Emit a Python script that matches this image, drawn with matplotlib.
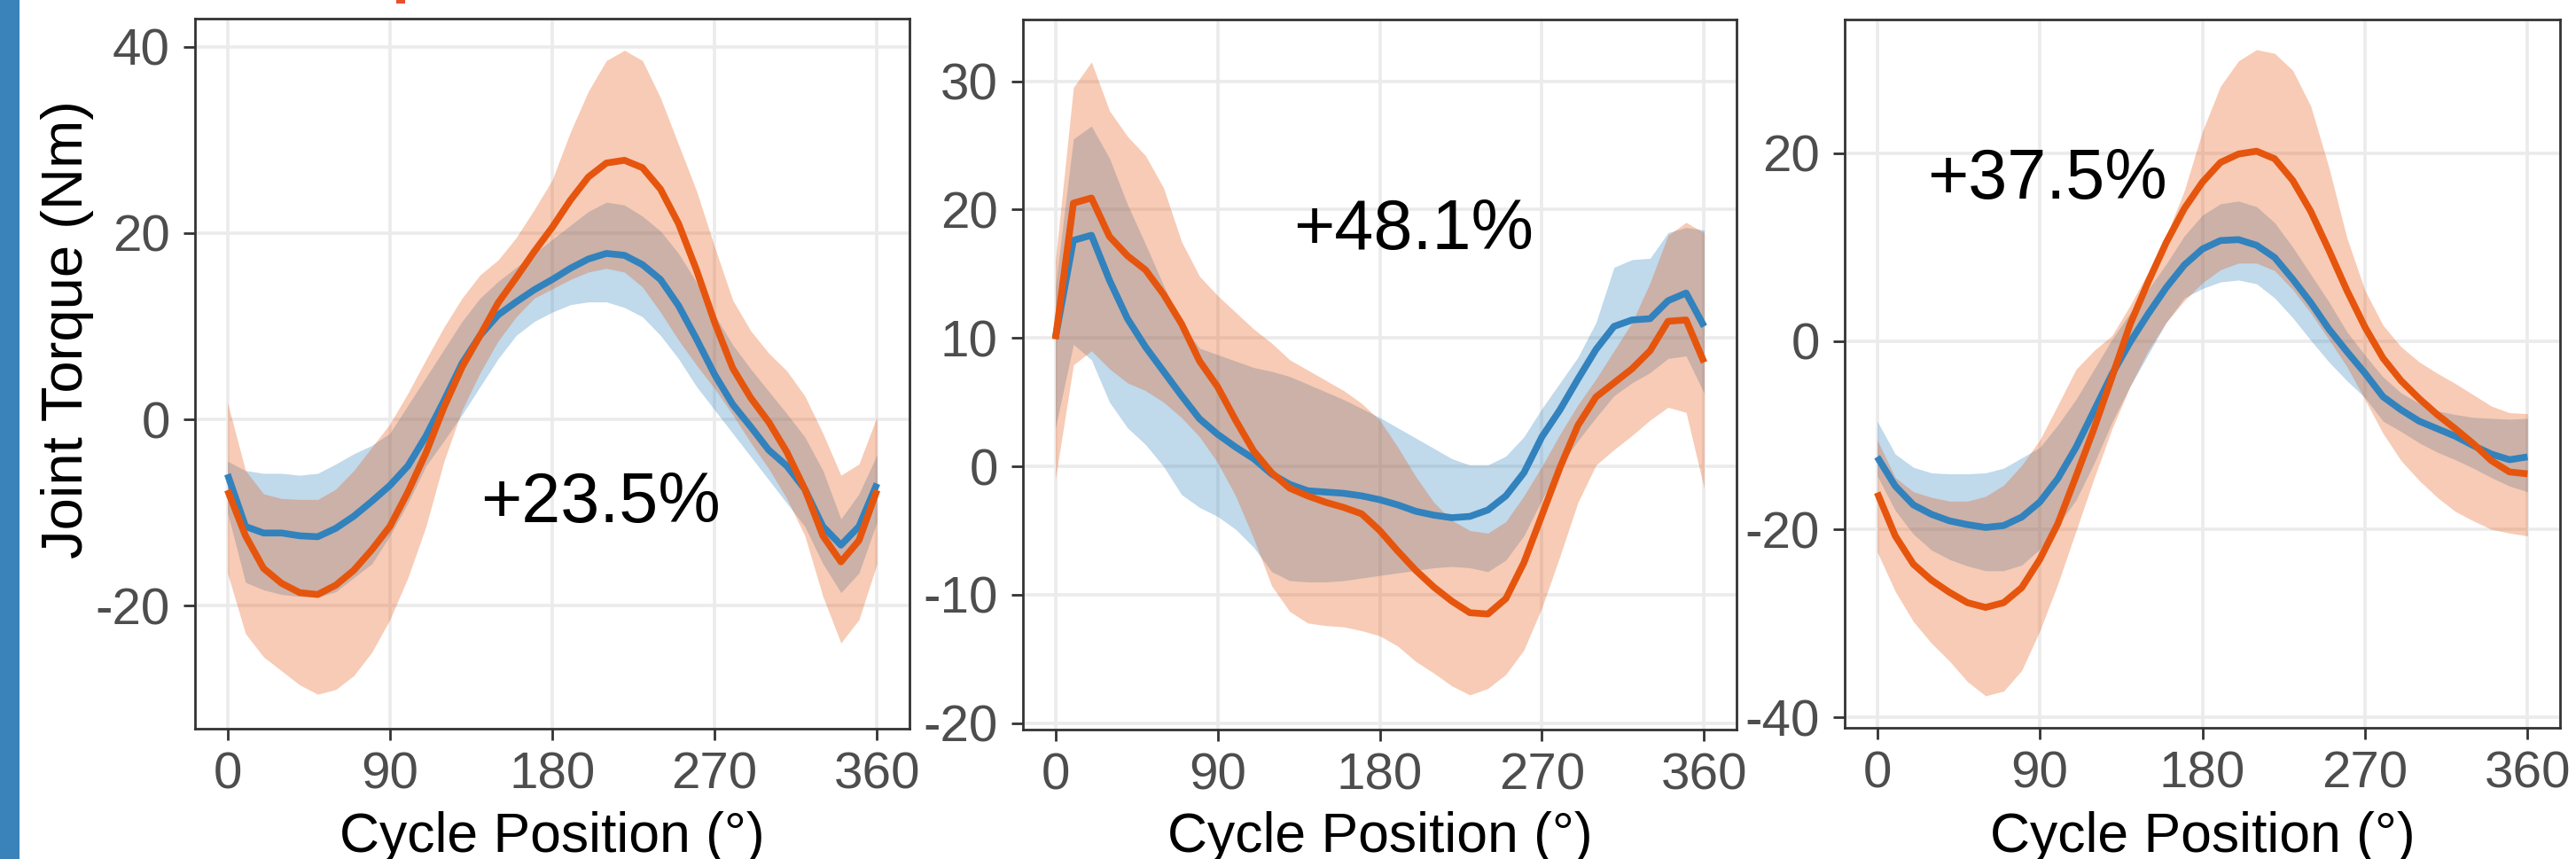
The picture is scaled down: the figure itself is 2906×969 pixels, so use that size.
import numpy as np
import matplotlib
matplotlib.use("Agg")
import matplotlib.pyplot as plt
from matplotlib.patches import Rectangle

plt.rcParams['font.family'] = ['Liberation Sans', 'DejaVu Sans']
plt.rcParams['axes.unicode_minus'] = False

cycle_deg = [0, 10, 20, 30, 40, 50, 60, 70, 80, 90, 100, 110, 120, 130, 140, 150, 160, 170, 180,
             190, 200, 210, 220, 230, 240, 250, 260, 270, 280, 290, 300, 310, 320, 330, 340, 350, 360]

# panel 1
p1_orange_mean = [-7.6, -12.5, -16.0, -17.6, -18.6, -18.8, -17.8, -16.2, -14.0, -11.5, -7.8, -3.6, 1.3,
                  5.6, 9.0, 12.5, 15.2, 18.0, 20.6, 23.5, 26.0, 27.5, 27.8, 27.0, 24.7, 21.0, 16.0, 10.4,
                  5.5, 2.3, -0.3, -3.5, -7.5, -12.5, -15.3, -13.0, -7.6]
p1_orange_hi = [1.8, -5.5, -8.0, -8.5, -8.6, -8.6, -7.5, -5.5, -3.0, -0.5, 2.8, 6.4, 9.9, 13.0, 15.5,
                17.1, 19.5, 22.5, 25.7, 30.8, 35.2, 38.5, 39.6, 38.5, 34.5, 29.5, 24.5, 18.5, 12.8, 9.5,
                7.1, 5.2, 2.5, -1.5, -6.0, -4.8, 0.3]
p1_orange_lo = [-16.5, -23.0, -25.5, -27.0, -28.5, -29.5, -29.0, -27.5, -25.0, -21.5, -17.0, -11.5, -4.5,
                1.0, 5.0, 8.4, 11.0, 13.0, 14.0, 15.0, 15.8, 16.2, 15.8, 14.2, 11.5, 8.5, 5.8, 3.3, 0.5,
                -2.5, -5.3, -8.5, -12.5, -19.0, -24.0, -21.5, -15.5]
p1_blue_mean = [-5.9, -11.5, -12.2, -12.2, -12.5, -12.6, -11.7, -10.4, -8.8, -7.1, -5.0, -1.8, 2.0, 6.0,
                9.0, 11.2, 12.6, 13.9, 15.0, 16.2, 17.2, 17.8, 17.6, 16.6, 15.0, 12.2, 8.6, 4.8, 1.6, -0.8,
                -3.3, -5.0, -7.5, -11.5, -13.5, -11.5, -6.9]
p1_blue_hi = [-4.5, -5.5, -5.8, -5.8, -6.0, -5.8, -4.8, -3.7, -2.8, -1.5, 1.5, 4.5, 7.5, 10.5, 13.0,
              14.8, 16.3, 17.8, 19.3, 20.8, 22.3, 23.3, 23.0, 21.8, 20.2, 17.8, 14.7, 11.2, 8.0, 5.4,
              3.0, 0.6, -1.9, -5.5, -10.7, -8.0, -3.8]
p1_blue_lo = [-10.0, -17.5, -18.3, -18.8, -19.0, -19.1, -18.5, -17.0, -15.5, -12.5, -9.0, -5.0, -2.3,
              0.5, 3.5, 6.5, 9.0, 10.5, 11.5, 12.3, 12.6, 12.6, 12.0, 11.0, 9.0, 6.5, 3.5, 1.0, -1.5,
              -4.0, -6.5, -9.0, -11.5, -15.5, -18.6, -16.5, -11.0]

# panel 2
p2_orange_mean = [9.9, 20.5, 20.9, 17.9, 16.4, 15.3, 13.4, 11.1, 8.2, 6.2, 3.6, 1.2, -0.5, -1.7, -2.3,
                  -2.8, -3.2, -3.7, -5.0, -6.6, -8.1, -9.4, -10.5, -11.4, -11.5, -10.3, -7.5, -3.8,
                  -0.1, 3.2, 5.4, 6.5, 7.6, 9.0, 11.3, 11.4, 8.1]
p2_orange_hi = [16.0, 29.5, 31.5, 27.7, 25.7, 24.2, 21.7, 17.5, 14.8, 13.3, 12.0, 10.7, 9.6, 8.3, 7.5,
                6.7, 5.9, 4.9, 3.6, 1.5, -0.8, -2.8, -4.2, -5.0, -5.2, -4.3, -2.3, 0.0, 2.5, 4.8, 6.8,
                9.0, 11.2, 14.3, 18.0, 19.0, 18.2]
p2_orange_lo = [-1.0, 7.9, 9.0, 7.6, 6.5, 5.9, 5.0, 3.8, 2.3, 0.3, -2.3, -5.6, -9.3, -11.3, -12.2,
                -12.4, -12.5, -12.8, -13.2, -14.0, -15.2, -16.1, -17.1, -17.8, -17.3, -16.2, -14.3,
                -11.0, -7.0, -2.8, 0.1, 1.3, 2.4, 3.6, 4.6, 4.2, -1.7]
p2_blue_mean = [10.0, 17.6, 18.0, 14.5, 11.5, 9.3, 7.4, 5.5, 3.7, 2.5, 1.5, 0.6, -0.6, -1.4, -1.9, -2.0,
                -2.1, -2.3, -2.6, -3.0, -3.5, -3.8, -4.0, -3.9, -3.4, -2.3, -0.5, 2.3, 4.4, 6.8, 9.1,
                10.9, 11.4, 11.5, 12.9, 13.5, 10.9]
p2_blue_hi = [14.0, 25.5, 26.5, 24.0, 20.4, 17.3, 14.1, 11.1, 9.2, 8.7, 8.2, 7.7, 7.4, 7.0, 6.4, 5.8,
              5.2, 4.5, 3.8, 3.0, 2.2, 1.4, 0.6, 0.1, 0.1, 0.8, 2.3, 4.5, 6.5, 8.5, 11.2, 15.5, 16.1,
              16.2, 18.2, 18.6, 18.4]
p2_blue_lo = [3.0, 9.5, 8.3, 5.0, 3.0, 1.7, 0.0, -2.2, -3.2, -3.9, -4.9, -6.3, -8.2, -8.9, -9.0, -9.0,
              -8.9, -8.7, -8.5, -8.3, -8.1, -7.9, -7.8, -7.9, -8.2, -7.3, -5.4, -2.6, 0.0, 2.0, 3.8,
              5.5, 6.5, 7.3, 8.4, 8.6, 5.7]

# panel 3
p3_orange_mean = [-16.1, -20.7, -23.7, -25.4, -26.7, -27.8, -28.3, -27.8, -26.2, -23.2, -19.4, -14.4,
                  -9.3, -3.8, 1.8, 6.3, 10.5, 14.1, 16.9, 19.0, 19.9, 20.2, 19.4, 17.1, 13.8, 9.7, 5.4,
                  1.5, -1.8, -4.2, -6.1, -7.8, -9.3, -10.9, -12.7, -13.9, -14.1]
p3_orange_hi = [-10.5, -14.5, -16.0, -16.6, -17.0, -17.0, -16.5, -15.3, -13.2, -10.5, -6.8, -3.0, -1.0,
                0.6, 3.8, 7.3, 11.2, 16.0, 22.3, 27.1, 29.8, 31.0, 30.6, 28.8, 25.0, 18.5, 11.0, 5.4,
                1.7, -0.6, -2.2, -3.4, -4.5, -5.7, -6.9, -7.6, -7.7]
p3_orange_lo = [-22.4, -26.6, -29.8, -32.1, -34.0, -36.2, -37.7, -37.2, -35.0, -30.8, -25.8, -20.2,
                -14.6, -9.3, -4.8, -1.0, 2.0, 4.3, 6.2, 7.6, 8.3, 8.3, 7.5, 5.5, 3.0, 0.2, -2.7, -6.2,
                -9.8, -12.7, -14.8, -16.6, -18.1, -19.1, -20.0, -20.4, -20.7]
p3_blue_mean = [-12.3, -15.4, -17.4, -18.4, -19.1, -19.5, -19.8, -19.6, -18.7, -17.1, -14.6, -11.3, -7.4,
                -3.5, -0.1, 2.9, 5.7, 8.1, 9.8, 10.7, 10.8, 10.2, 8.9, 6.6, 4.1, 1.3, -1.1, -3.4, -5.9,
                -7.3, -8.5, -9.3, -10.1, -11.1, -12.0, -12.6, -12.3]
p3_blue_hi = [-8.5, -12.0, -13.4, -14.0, -14.1, -14.1, -14.0, -13.5, -12.4, -11.3, -8.9, -6.2, -3.0,
              0.2, 3.0, 5.5, 8.2, 11.2, 13.4, 14.6, 14.9, 14.3, 12.6, 10.0, 7.1, 4.2, 1.0, -1.5, -3.8,
              -5.5, -6.6, -7.4, -7.8, -8.1, -8.2, -8.3, -8.2]
p3_blue_lo = [-14.3, -18.0, -20.5, -22.2, -23.2, -23.9, -24.4, -24.4, -23.8, -22.1, -19.6, -16.9, -13.0,
              -8.6, -4.8, -1.4, 2.0, 4.6, 5.6, 6.3, 6.5, 6.1, 4.6, 2.5, 0.1, -2.2, -4.2, -6.0, -8.5,
              -9.6, -10.8, -11.8, -12.6, -13.5, -14.5, -15.4, -16.0]

x_ticks = [0, 90, 180, 270, 360]
y_ticks = [[-20, 0, 20, 40], [-20, -10, 0, 10, 20, 30], [-40, -20, 0, 20]]
y_limits = [(-33.2, 43.0), (-20.5, 34.8), (-41.1, 34.2)]
change_labels = ["+23.5%", "+48.1%", "+37.5%"]
change_pos = [(207, -11.0), (199, 16.9), (94, 15.2)]

ORANGE = "#E6550D"
BLUE = "#3182BD"

W, H = 2906, 969
fig = plt.figure(figsize=(W / 100, H / 100), dpi=100)

# panel boxes in pixels: left, top, right, bottom
boxes = [(220, 21, 1026, 822), (1154, 22, 1959, 823), (2081, 22, 2888, 821)]

series = [
    (p1_blue_lo, p1_blue_hi, p1_blue_mean, p1_orange_lo, p1_orange_hi, p1_orange_mean),
    (p2_blue_lo, p2_blue_hi, p2_blue_mean, p2_orange_lo, p2_orange_hi, p2_orange_mean),
    (p3_blue_lo, p3_blue_hi, p3_blue_mean, p3_orange_lo, p3_orange_hi, p3_orange_mean),
]

for i, (l, t, r, b) in enumerate(boxes):
    ax = fig.add_axes([l / W, (H - b) / H, (r - l) / W, (b - t) / H])
    blo, bhi, bmean, olo, ohi, omean = series[i]

    ax.fill_between(cycle_deg, blo, bhi, color=BLUE, alpha=0.3, lw=0)
    ax.fill_between(cycle_deg, olo, ohi, color=ORANGE, alpha=0.3, lw=0)
    ax.plot(cycle_deg, bmean, color=BLUE, lw=5.5, solid_joinstyle='round', solid_capstyle='butt')
    ax.plot(cycle_deg, omean, color=ORANGE, lw=5.5, solid_joinstyle='round', solid_capstyle='butt')

    ax.set_xlim(-18, 378)
    ax.set_ylim(*y_limits[i])
    ax.set_xticks(x_ticks)
    ax.set_yticks(y_ticks[i])
    ax.set_xticklabels([str(v) for v in x_ticks])
    ax.set_yticklabels([str(v) for v in y_ticks[i]])

    ax.grid(True, color="#EBEBEB", lw=2.6)
    ax.set_axisbelow(True)
    for s in ax.spines.values():
        s.set_color("#333333")
        s.set_linewidth(2.0)
    ax.tick_params(axis='both', length=9.4, width=2.0, color="#333333",
                   labelsize=42, labelcolor="#4D4D4D")
    ax.tick_params(axis='x', pad=9)
    ax.tick_params(axis='y', pad=11)

    tx, ty = change_pos[i]
    ax.text(tx, ty, change_labels[i], fontsize=57, color="black", ha='center', va='baseline')

    fig.text((l + r) / 2 / W, (H - 961) / H, "Cycle Position (°)", fontsize=45,
             color="black", ha='center', va='baseline')

fig.text(93 / W, (H - 372) / H, "Joint Torque (Nm)", fontsize=47, color="black",
         rotation=90, rotation_mode='anchor', ha='center', va='baseline')

# slide background strip at the left edge and the cut-off red title mark
fig.patches.append(Rectangle((0, 0), 22 / W, 1, transform=fig.transFigure,
                             color="#3A82BA", lw=0, zorder=-1))
fig.patches.append(Rectangle((447 / W, (H - 4) / H), 10 / W, 4 / H, transform=fig.transFigure,
                             color="#E8502A", lw=0))

fig.savefig("out.png", dpi=100)
